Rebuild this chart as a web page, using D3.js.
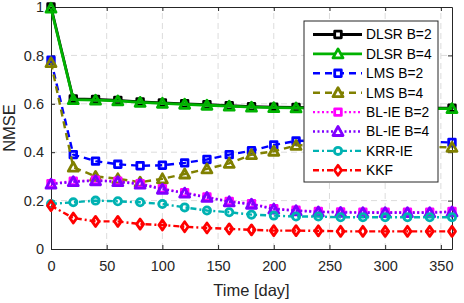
<!DOCTYPE html>
<html>
<head>
<meta charset="utf-8">
<script src="https://cdn.jsdelivr.net/npm/d3@7"></script>
<style>
  body { margin: 0; background: #fff; }
  svg { font-family: "Liberation Sans", Arial, sans-serif; }
</style>
</head>
<body>
<svg id="chart" width="464" height="303"></svg>
<script>
// ---- data ----
const days = [0, 20, 40, 60, 80, 100, 120, 140, 160, 180, 200, 220, 240, 260, 280, 300, 320, 340, 360];

const dlsrB2 = [1.0, 0.62, 0.618, 0.614, 0.608, 0.604, 0.6, 0.596, 0.592, 0.588, 0.586, 0.585, 0.584, 0.584, 0.583, 0.583, 0.583, 0.582, 0.582];
const dlsrB4 = [0.995, 0.617, 0.615, 0.612, 0.606, 0.602, 0.598, 0.594, 0.59, 0.586, 0.584, 0.583, 0.582, 0.582, 0.581, 0.581, 0.581, 0.58, 0.58];
const lmsB2  = [0.78, 0.39, 0.363, 0.35, 0.344, 0.346, 0.356, 0.37, 0.39, 0.406, 0.43, 0.446, 0.45, 0.45, 0.448, 0.446, 0.445, 0.443, 0.44];
const lmsB4  = [0.77, 0.338, 0.3, 0.29, 0.276, 0.29, 0.31, 0.331, 0.354, 0.39, 0.404, 0.428, 0.43, 0.43, 0.428, 0.426, 0.424, 0.422, 0.42];
const blieB2 = [0.27, 0.28, 0.284, 0.28, 0.27, 0.249, 0.233, 0.215, 0.197, 0.187, 0.167, 0.16, 0.155, 0.153, 0.152, 0.152, 0.152, 0.152, 0.155];
const blieB4 = [0.268, 0.278, 0.282, 0.278, 0.268, 0.247, 0.231, 0.213, 0.195, 0.185, 0.165, 0.158, 0.153, 0.151, 0.15, 0.15, 0.15, 0.15, 0.153];
const krrIe  = [0.186, 0.193, 0.2, 0.197, 0.193, 0.186, 0.172, 0.159, 0.152, 0.142, 0.138, 0.134, 0.134, 0.131, 0.131, 0.131, 0.131, 0.131, 0.131];
const kkf    = [0.179, 0.128, 0.114, 0.114, 0.103, 0.099, 0.092, 0.087, 0.083, 0.079, 0.076, 0.076, 0.075, 0.073, 0.073, 0.073, 0.073, 0.073, 0.073];

const xTicks = [0, 50, 100, 150, 200, 250, 300, 350];
const yTicks = [0, 0.2, 0.4, 0.6, 0.8, 1];

const seriesNames = ['DLSR B=2', 'DLSR B=4', 'LMS B=2', 'LMS B=4', 'BL-IE B=2', 'BL-IE B=4', 'KRR-IE', 'KKF'];
const seriesValues = [dlsrB2, dlsrB4, lmsB2, lmsB4, blieB2, blieB4, krrIe, kkf];
const seriesColors = ['#000000', '#00b200', '#0000ff', '#808000', '#ff00ff', '#8000ff', '#00b2b2', '#ff0000'];
const seriesDash = ['none', 'none', '7,5', '7,5', '2,2.5', '2,2.5', '6,3,2,3', '6,3,2,3'];
const seriesMarker = ['square', 'triangle', 'square', 'triangle', 'square', 'triangle', 'circle', 'diamond'];

// ---- layout ----
const margin = { left: 51, top: 7, right: 12, bottom: 54 };
const W = 464, H = 303;
const svg = d3.select('#chart');
const FONT = '"Liberation Sans", Arial, sans-serif';

const x = d3.scaleLinear().domain([0, 360]).range([margin.left, W - margin.right]);
const y = d3.scaleLinear().domain([0, 1]).range([H - margin.bottom, margin.top]);

// grid
const grid = svg.append('g');
grid.selectAll('.gx').data(xTicks.filter(t => t > 0)).enter().append('line')
  .attr('x1', d => x(d)).attr('x2', d => x(d))
  .attr('y1', y(0)).attr('y2', y(1))
  .attr('stroke', '#dcdcdc').attr('stroke-width', 1).attr('stroke-dasharray', '6,4');
grid.selectAll('.gy').data(yTicks.filter(t => t > 0 && t < 1)).enter().append('line')
  .attr('x1', x(0)).attr('x2', x(360))
  .attr('y1', d => y(d)).attr('y2', d => y(d))
  .attr('stroke', '#dcdcdc').attr('stroke-width', 1).attr('stroke-dasharray', '6,4');

// axes (ticks pointing inward, matlab style)
const xAxis = svg.append('g').attr('transform', `translate(0,${y(0)})`)
  .call(d3.axisBottom(x).tickValues(xTicks).tickSizeInner(-4).tickSizeOuter(0).tickPadding(12));
const yAxis = svg.append('g').attr('transform', `translate(${x(0)},0)`)
  .call(d3.axisLeft(y).tickValues(yTicks).tickSizeInner(-4).tickSizeOuter(0).tickPadding(7)
    .tickFormat(d => d === 0 || d === 1 ? d3.format('d')(d) : d3.format('.1f')(d)));
const xTop = svg.append('g').attr('transform', `translate(0,${y(1)})`)
  .call(d3.axisTop(x).tickValues(xTicks).tickSizeInner(-4).tickSizeOuter(0).tickFormat(''));
const yRight = svg.append('g').attr('transform', `translate(${x(360)},0)`)
  .call(d3.axisRight(y).tickValues(yTicks).tickSizeInner(-4).tickSizeOuter(0).tickFormat(''));

[xAxis, yAxis, xTop, yRight].forEach(a => {
  a.select('.domain').attr('stroke', '#262626').attr('stroke-width', 1);
  a.selectAll('.tick line').attr('stroke', '#262626');
  a.selectAll('.tick text').attr('fill', '#262626').style('font-size', '14.5px')
    .style('font-family', FONT);
});

// axis titles
svg.append('text').attr('x', (x(0) + x(360)) / 2).attr('y', 296)
  .attr('text-anchor', 'middle').attr('fill', '#262626').style('font-size', '16.5px')
  .style('font-family', FONT).text('Time [day]');
svg.append('text').attr('transform', `translate(15,${(y(0) + y(1)) / 2}) rotate(-90)`)
  .attr('text-anchor', 'middle').attr('fill', '#262626').style('font-size', '16.5px')
  .style('font-family', FONT).text('NMSE');

// markers
function markerPath(type, cx, cy) {
  if (type === 'square') {
    const s = 3.3;
    return `M${cx - s},${cy - s}h${2 * s}v${2 * s}h${-2 * s}Z`;
  }
  if (type === 'triangle') {
    const s = 5;
    return `M${cx},${cy - s}L${cx + s},${cy + s * 0.8}L${cx - s},${cy + s * 0.8}Z`;
  }
  if (type === 'diamond') {
    const s = 5;
    return `M${cx},${cy - s}L${cx + s * 0.7},${cy}L${cx},${cy + s}L${cx - s * 0.7},${cy}Z`;
  }
  // circle
  const rr = 3.6;
  return `M${cx - rr},${cy}a${rr},${rr} 0 1,0 ${2 * rr},0a${rr},${rr} 0 1,0 ${-2 * rr},0Z`;
}

const line = d3.line().x((d, i) => x(days[i])).y(d => y(d));
const plot = svg.append('g');

seriesValues.forEach((vals, k) => {
  const g = plot.append('g');
  g.selectAll('path.m').data(vals).enter().append('path')
    .attr('class', 'm')
    .attr('d', (d, i) => markerPath(seriesMarker[k], x(days[i]), y(d)))
    .attr('fill', 'none').attr('stroke', seriesColors[k]).attr('stroke-width', 2.8)
    .attr('stroke-linejoin', 'round');
  g.append('path').datum(vals)
    .attr('d', line).attr('fill', 'none')
    .attr('stroke', seriesColors[k]).attr('stroke-width', k < 2 ? 2.8 : 2.4)
    .attr('stroke-dasharray', seriesDash[k] === 'none' ? null : seriesDash[k]);
});

// legend
const lg = svg.append('g');
lg.append('rect').attr('x', 304).attr('y', 21).attr('width', 134).attr('height', 161)
  .attr('fill', '#fff').attr('stroke', '#262626').attr('stroke-width', 1);
seriesNames.forEach((name, k) => {
  const ly = 34.5 + k * 19.4;
  lg.append('line').attr('x1', 313).attr('x2', 362).attr('y1', ly).attr('y2', ly)
    .attr('stroke', seriesColors[k]).attr('stroke-width', k < 2 ? 2.8 : 2.4)
    .attr('stroke-dasharray', seriesDash[k] === 'none' ? null : seriesDash[k]);
  lg.append('path').attr('d', markerPath(seriesMarker[k], 338, ly))
    .attr('fill', '#fff').attr('stroke', seriesColors[k]).attr('stroke-width', 2.8)
    .attr('stroke-linejoin', 'round');
  lg.append('text').attr('x', 366).attr('y', ly).attr('dy', '0.36em')
    .attr('fill', '#000').style('font-size', '13.8px').style('font-family', FONT).text(name);
});
</script>
</body>
</html>
